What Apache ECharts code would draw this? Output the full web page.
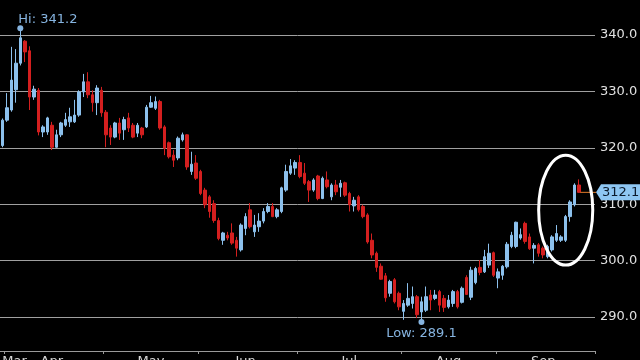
<!DOCTYPE html>
<html><head><meta charset="utf-8">
<script src="https://cdn.jsdelivr.net/npm/echarts@6/dist/echarts.min.js"></script>
<style>html,body{margin:0;padding:0;background:#000;}#c{width:640px;height:360px;}</style>
</head><body><div id="c"></div>
<script>
// ---- data ----
const startDate = '2015-03-31';
const endDate = '2015-09-30';
const monthNames = ['Jan','Feb','Mar','Apr','May','Jun','Jul','Aug','Sep','Oct','Nov','Dec'];
const opens = [320.4,324.9,326.7,330.3,335.0,338.9,337.2,329.0,330.2,322.8,322.8,324.0,320.1,322.3,324.0,324.6,324.6,325.8,329.9,331.7,329.4,328.0,330.2,
326.3,323.5,321.9,324.4,323.2,325.3,324.0,322.6,323.5,323.7,327.2,327.0,328.2,323.7,320.9,318.7,318.2,321.4,322.3,315.8,317.3,
315.8,312.5,311.3,310.1,307.1,303.6,304.5,304.9,303.6,301.9,305.7,309.0,305.1,306.0,307.0,308.7,309.6,307.8,308.7,312.5,315.5,316.4,
317.4,315.5,314.0,312.5,315.0,311.0,314.3,311.3,313.4,313.0,313.8,311.9,309.7,311.3,309.6,308.1,303.6,301.3,299.0,297.3,294.2,296.6,294.2,
291.0,292.1,292.4,293.6,290.9,291.2,293.9,293.3,294.5,293.3,291.8,292.4,294.5,292.6,297.0,293.5,296.1,298.8,298.0,299.2,301.4,
296.9,297.4,298.9,302.5,302.5,304.0,306.6,304.2,302.2,302.8,302.2,300.7,301.9,303.6,303.6,303.6,307.8,309.9,313.4];
const closes = [324.9,327.1,332.0,335.0,339.5,337.0,329.0,330.4,322.8,323.7,325.3,320.1,322.3,324.4,325.0,325.5,325.8,329.9,331.7,329.4,328.0,330.6,326.2,
322.3,321.9,324.4,322.6,325.0,323.5,321.9,324.0,322.3,327.2,328.0,328.2,323.5,319.9,318.4,317.8,321.7,322.3,316.6,317.1,314.6,
311.9,309.9,308.7,307.1,303.9,304.9,304.0,303.1,302.2,306.3,307.8,306.0,306.3,307.0,308.7,309.6,307.8,309.0,312.9,315.8,316.8,317.4,
314.9,313.7,312.5,314.3,311.0,314.6,313.1,313.4,312.2,313.7,311.6,309.9,310.7,309.0,307.8,303.3,301.0,298.8,296.7,293.4,296.3,292.7,291.8,
292.4,293.3,293.6,290.4,292.7,293.6,293.0,293.9,292.1,291.7,293.0,294.5,291.8,295.1,294.0,298.3,298.6,297.9,300.7,301.3,297.4,
298.0,299.0,302.9,304.5,306.8,304.6,303.4,302.1,302.7,301.3,301.0,302.5,304.2,304.8,304.2,307.8,310.4,313.4,312.1];
const lows = [320.1,324.6,326.4,328.0,334.6,335.2,326.7,328.5,322.2,321.9,322.3,319.6,320.0,321.9,323.7,323.7,324.4,325.5,329.0,328.8,326.4,325.8,325.5,
320.1,320.5,321.7,321.4,321.4,322.8,321.7,321.9,321.7,323.5,327.1,326.7,323.2,318.7,318.1,316.6,317.8,321.1,316.1,315.2,314.3,
311.6,309.3,307.6,306.7,303.6,302.8,303.6,302.8,300.7,301.6,304.5,305.7,304.2,305.1,306.6,308.4,307.7,307.5,308.4,312.2,315.2,315.2,
314.6,313.4,310.4,312.2,310.7,310.9,312.8,310.7,311.6,311.3,311.3,308.7,308.7,308.7,307.5,303.0,300.4,298.0,296.6,292.7,293.6,292.4,291.2,
289.5,291.8,291.5,289.8,289.1,290.9,291.2,293.0,290.9,290.9,291.5,291.8,291.5,292.4,293.9,293.0,295.8,297.4,297.8,298.7,297.1,
295.1,296.6,298.6,302.2,302.2,303.7,303.0,301.9,299.5,300.7,300.4,300.4,301.6,303.3,303.3,303.3,306.9,309.6,312.0];
const highs = [325.2,329.7,337.9,337.5,341.2,339.1,338.0,331.0,330.6,324.0,325.5,324.6,323.2,324.6,326.2,327.1,328.5,330.2,333.1,333.4,330.2,331.1,330.8,
326.7,324.0,324.6,325.3,325.5,326.2,324.4,324.4,323.7,327.6,329.2,329.1,328.5,324.0,321.1,319.6,322.0,322.7,322.4,319.3,318.7,
316.1,312.9,311.6,310.7,307.6,305.1,305.1,306.6,304.2,306.6,308.4,310.2,308.1,308.4,309.3,310.2,310.2,309.3,313.1,317.0,318.0,317.8,
318.7,317.3,314.3,314.6,315.2,314.9,315.8,313.7,314.3,314.3,314.0,312.2,311.3,311.6,309.9,308.4,304.8,301.6,299.5,297.8,296.6,296.9,294.5,
293.0,296.0,295.4,293.9,293.6,295.4,294.8,294.8,294.8,293.9,293.9,294.8,294.8,295.4,297.4,298.9,298.9,300.1,301.9,303.0,301.6,
298.6,299.2,303.3,305.1,306.9,305.7,306.9,304.8,303.1,303.1,302.5,302.8,304.5,306.3,304.5,308.1,310.7,313.7,314.4];
const yTickValues = [290,300,310,320,330,340];
// annotation ellipse (category index, value) corners
const ellipseFrom = [119, 318.7];
const ellipseTo = [131, 299.2];

// ---- categories: weekdays ----
const dates = [];
for (let d = new Date(startDate + 'T00:00:00Z'); d <= new Date(endDate + 'T00:00:00Z'); d.setUTCDate(d.getUTCDate() + 1)) {
  const wd = d.getUTCDay();
  if (wd !== 0 && wd !== 6) dates.push(d.toISOString().slice(0, 10));
}
const monthOf = i => +dates[i].slice(5, 7);
const starts = new Set(), mids = new Set();
let s = 0;
for (let i = 1; i <= dates.length; i++) {
  if (i === dates.length || monthOf(i) !== monthOf(i - 1)) {
    if (s > 0) starts.add(s);
    const n = i - s;
    mids.add(s === 0 ? 0 : s + Math.floor((n - 1) / 2));
    s = i;
  }
}
const candles = opens.map((o, i) => [o, closes[i], lows[i], highs[i]]);
let hiIdx = 0, loIdx = 0;
highs.forEach((v, i) => { if (v > highs[hiIdx]) hiIdx = i; });
lows.forEach((v, i) => { if (v < lows[loIdx]) loIdx = i; });
const lastIdx = closes.length - 1, lastClose = closes[lastIdx];

const FONT = 'DejaVu Sans';
const UP = '#8cc0ec', DOWN = '#d41f1f', LABEL = '#86b4e0';
const chart = echarts.init(document.getElementById('c'), null, {renderer: 'canvas'});
chart.setOption({
  animation: false,
  backgroundColor: '#000',
  grid: {left: 0, right: 45, top: -2, bottom: 9, containLabel: false, outerBoundsMode: 'none'},
  xAxis: {
    type: 'category', data: dates, boundaryGap: true,
    axisLine: {show: true, lineStyle: {color: '#9a9a9a', width: 1}},
    axisTick: {show: true, length: 3, interval: i => starts.has(i), lineStyle: {color: '#9a9a9a'}},
    axisLabel: {
      show: true, interval: i => mids.has(i), margin: 4,
      formatter: v => monthNames[+v.slice(5, 7) - 1],
      color: '#d6d6d6', fontSize: 13, fontFamily: FONT, alignMinLabel: 'left'
    },
    splitLine: {show: false}
  },
  yAxis: {
    type: 'value', position: 'right', min: 283.97, max: 346.56, scale: true,
    axisLine: {show: false}, axisTick: {show: false},
    axisLabel: {
      show: true, margin: 5, color: '#e0e0e0', fontSize: 13, fontFamily: FONT,
      formatter: v => yTickValues.some(t => Math.abs(t - v) < 1e-6) ? v.toFixed(1) : ''
    },
    splitLine: {show: true, lineStyle: {color: '#a0a0a0', width: 1}}
  },
  series: [{
    type: 'candlestick', data: candles, barWidth: 3,
    itemStyle: {color: UP, color0: DOWN, borderColor: UP, borderColor0: DOWN, borderWidth: 1},
    markPoint: {
      symbol: 'circle', symbolSize: 6, animation: false,
      itemStyle: {color: LABEL},
      label: {show: true, color: LABEL, fontSize: 13, fontFamily: FONT},
      data: [
        {coord: [hiIdx, highs[hiIdx]], value: highs[hiIdx],
         label: {position: 'top', align: 'left', distance: -1, offset: [-2, 0], formatter: 'Hi: ' + highs[hiIdx].toFixed(1)}},
        {coord: [loIdx, lows[loIdx]], value: lows[loIdx],
         label: {position: 'bottom', distance: 2, formatter: 'Low: ' + lows[loIdx].toFixed(1)}}
      ]
    }
  }]
});

const [lx, ly] = chart.convertToPixel({gridIndex: 0}, [lastIdx, lastClose]);
const e1 = chart.convertToPixel({gridIndex: 0}, ellipseFrom);
const e2 = chart.convertToPixel({gridIndex: 0}, ellipseTo);
const tipX = 596;
chart.setOption({
  graphic: [
    {type: 'line', shape: {x1: lx + 1, y1: ly, x2: tipX, y2: ly}, style: {stroke: '#e07a2a', lineWidth: 1}, z: 10},
    {type: 'polygon', shape: {points: [[tipX, ly], [tipX + 5, ly - 8], [640, ly - 8], [640, ly + 8], [tipX + 5, ly + 8]]},
     style: {fill: '#8ec6f2'}, z: 10},
    {type: 'text', x: tipX + 6, y: ly, style: {text: lastClose.toFixed(1), fill: '#0b1a2c', font: '13px "DejaVu Sans"',
     textAlign: 'left', textVerticalAlign: 'middle', verticalAlign: 'middle'}, z: 11},
    {type: 'ellipse', shape: {cx: (e1[0] + e2[0]) / 2, cy: (e1[1] + e2[1]) / 2, rx: Math.abs(e2[0] - e1[0]) / 2, ry: Math.abs(e2[1] - e1[1]) / 2},
     style: {fill: 'none', stroke: '#ffffff', lineWidth: 3}, z: 10}
  ]
});
</script></body></html>
